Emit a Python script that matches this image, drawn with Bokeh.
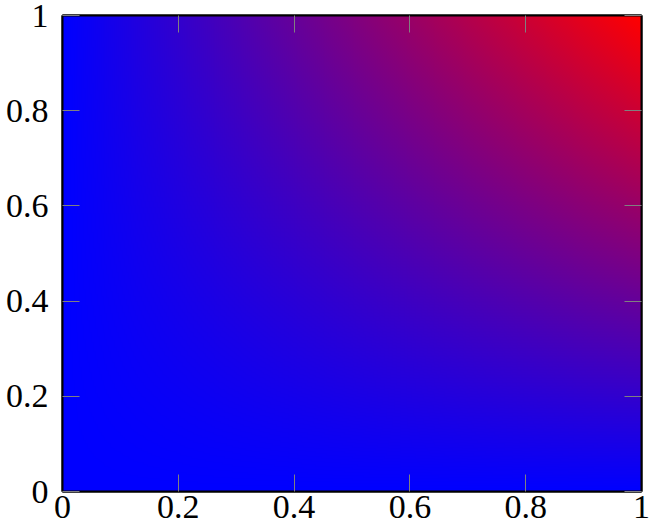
import numpy as np
from bokeh.plotting import figure
from bokeh.models import Range1d, LinearColorMapper, FixedTicker, LinearAxis, CustomJSTickFormatter
from bokeh.embed import file_html
from bokeh.resources import INLINE

# corner values of the surface (x, y) -> z, shaded by bilinear interpolation
corner_x = [0.0, 1.0]
corner_y = [0.0, 1.0]
corner_z = [[0.0, 0.0],   # y = 0 : x = 0, x = 1
            [0.0, 1.0]]   # y = 1 : x = 0, x = 1
tick_values = [0.0, 0.2, 0.4, 0.6, 0.8, 1.0]
tick_labels = ["0", "0.2", "0.4", "0.6", "0.8", "1"]
colormap_ends = [(0, 0, 255), (255, 0, 0)]  # blue -> red

# interpolate the shader over a fine grid (as pgfplots' shader=interp)
n = 300
u = np.linspace(0, 1, n)
U, V = np.meshgrid(u, u)
c = np.array(corner_z)
Z = (c[0, 0] * (1 - U) * (1 - V) + c[0, 1] * U * (1 - V)
     + c[1, 0] * (1 - U) * V + c[1, 1] * U * V)

(r0, g0, b0), (r1, g1, b1) = colormap_ends
palette = []
for i in range(256):
    t = i / 255
    palette.append("#%02x%02x%02x" % (round(r0 + (r1 - r0) * t),
                                      round(g0 + (g1 - g0) * t),
                                      round(b0 + (b1 - b0) * t)))
mapper = LinearColorMapper(palette=palette, low=0, high=1)

p = figure(width=654, height=532, output_backend="svg", toolbar_location=None,
           x_range=Range1d(corner_x[0], corner_x[1]),
           y_range=Range1d(corner_y[0], corner_y[1]),
           min_border_left=62, min_border_right=13, min_border_top=15,
           min_border_bottom=41)
p.image(image=[Z], x=corner_x[0], y=corner_y[0],
        dw=corner_x[1] - corner_x[0], dh=corner_y[1] - corner_y[0],
        color_mapper=mapper)

p.grid.visible = False
p.outline_line_color = "black"
p.outline_line_width = 2
p.background_fill_color = "white"
p.border_fill_color = "white"

p.add_layout(LinearAxis(), "right")
p.add_layout(LinearAxis(), "above")

overrides = {v: l for v, l in zip(tick_values, tick_labels)}
for ax in p.axis:
    ax.ticker = FixedTicker(ticks=tick_values, minor_ticks=[])
    ax.major_tick_in = 17
    ax.major_tick_out = 0
    ax.major_tick_line_color = "#808080"
    ax.major_tick_line_width = 1
    ax.minor_tick_line_color = None
    ax.axis_line_color = "black"
    ax.axis_line_width = 2
    ax.major_label_overrides = overrides
    ax.major_label_text_font = "Liberation Serif"
    ax.major_label_text_font_size = "34px"
    ax.major_label_text_color = "black"

for ax in p.xaxis:
    ax.major_label_standoff = 4
for ax in p.yaxis:
    ax.major_label_standoff = 14

for ax in (p.right[0], p.above[0]):
    ax.major_label_overrides = {}
    ax.formatter = CustomJSTickFormatter(code="return ''")
    ax.major_label_standoff = 0

open("out.html", "w").write(file_html(p, INLINE))
